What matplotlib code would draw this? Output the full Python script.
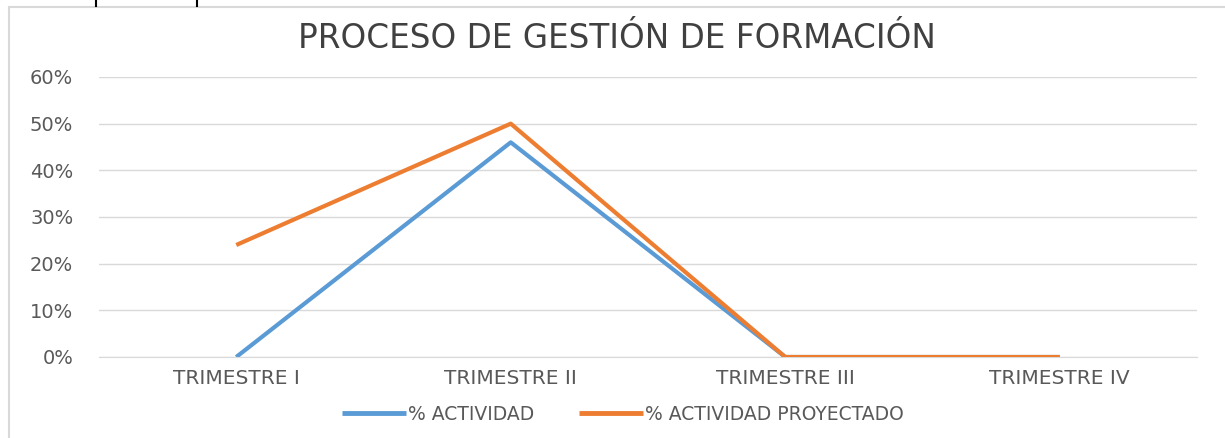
import matplotlib
matplotlib.use("Agg")
import matplotlib.pyplot as plt
from matplotlib.lines import Line2D
from matplotlib.patches import Rectangle
from matplotlib.ticker import PercentFormatter

categories = ["TRIMESTRE I", "TRIMESTRE II", "TRIMESTRE III", "TRIMESTRE IV"]
actividad = [0.0, 0.46, 0.0, 0.0]
proyectado = [0.24, 0.50, 0.0, 0.0]
title = "PROCESO DE GESTIÓN DE FORMACIÓN"

plt.rcParams["font.family"] = ["DejaVu Sans"]

W, H = 1225, 438
fig = plt.figure(figsize=(W / 100, H / 100), dpi=100)
fig.patch.set_facecolor("white")

# chart border (light gray frame)
fig.add_artist(Rectangle((9 / W, -0.05), 1.2, (H - 7) / H + 0.05, transform=fig.transFigure,
                         fill=False, edgecolor="#d9d9d9", linewidth=1.5))
# fragments of cropped text above the chart
for xp in (96, 197):
    fig.add_artist(Line2D([xp / W, xp / W], [1.0, (H - 6) / H], transform=fig.transFigure,
                          color="black", linewidth=1.5))

left, right = 99 / W, 1197 / W
top, bottom = 1 - 77 / H, 1 - 357 / H
ax = fig.add_axes([left, bottom, right - left, top - bottom])

x = list(range(len(categories)))
ax.plot(x, actividad, color="#5B9BD5", linewidth=3, solid_capstyle="butt", label="% ACTIVIDAD", zorder=3)
ax.plot(x, proyectado, color="#ED7D31", linewidth=3, solid_capstyle="butt", label="% ACTIVIDAD PROYECTADO", zorder=4)

ax.set_xlim(-0.5, len(categories) - 0.5)
ax.set_ylim(0, 0.60)
ax.set_yticks([0, 0.1, 0.2, 0.3, 0.4, 0.5, 0.6])
ax.yaxis.set_major_formatter(PercentFormatter(1.0, decimals=0))
ax.set_xticks(x)
ax.set_xticklabels(categories)
ax.grid(axis="y", color="#d9d9d9", linewidth=1)
ax.set_axisbelow(True)
for s in ax.spines.values():
    s.set_visible(False)
ax.spines["bottom"].set_visible(True)
ax.spines["bottom"].set_color("#d9d9d9")
ax.tick_params(axis="both", length=0, colors="#595959")
ax.tick_params(axis="x", pad=9, labelsize=14.5)
ax.tick_params(axis="y", pad=18.5, labelsize=14)

fig.text(617 / W, 1 - 39 / H, title, ha="center", va="center", fontsize=23.5,
         color="#404040")

leg = fig.legend(loc="center", bbox_to_anchor=(623 / W, 1 - 414 / H), ncol=2, frameon=False,
                 handlelength=3.4, handletextpad=0.1, columnspacing=2.4,
                 prop={"family": "DejaVu Sans", "size": 13.5})
for t in leg.get_texts():
    t.set_color("#595959")
for h in leg.get_lines():
    h.set_linewidth(3.5)

fig.savefig("out.png", dpi=100)
